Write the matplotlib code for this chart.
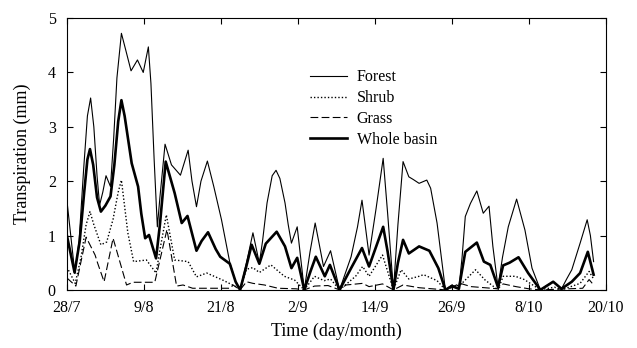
import matplotlib.pyplot as plt
import numpy as np

# ── Data (day counted from 28/7) ──────────────────────────────────────
forest_day = [0.0, 1.25, 1.9, 2.6, 3.2, 3.7, 4.2, 4.7, 5.1, 5.6, 6.1, 6.8, 7.3, 7.8,
              8.5, 9.2, 10.0, 11.0, 11.9, 12.7, 13.1, 13.6, 14.1, 14.5, 15.3, 16.3,
              17.7, 18.9, 19.5, 20.2, 20.9, 21.9, 22.9, 24.1, 25.4, 26.3, 27.0, 28.0,
              29.0, 30.0, 30.5, 31.2, 32.0, 32.6, 33.2, 34.0, 34.5, 35.0, 35.9, 37.0,
              37.9, 38.7, 40.0, 41.1, 42.5, 44.3, 45.3, 46.0, 47.1, 48.2, 49.3, 50.0,
              50.9, 51.6, 52.4, 53.3, 54.0, 54.9, 56.1, 56.7, 57.7, 59.0, 60.0, 61.1,
              61.6, 62.1, 62.9, 63.9, 64.9, 65.8, 66.4, 67.2, 67.9, 68.8, 70.1, 71.4,
              72.5, 73.8, 74.8, 75.8, 77.1, 77.9, 78.7, 80.0, 81.1, 81.6, 82.1]
forest = [1.65, 0.30, 0.9, 2.2, 3.2, 3.53, 3.0, 2.1, 1.56, 1.8, 2.1, 1.9, 2.8, 3.9,
          4.72, 4.4, 4.03, 4.23, 4.0, 4.47, 3.8, 2.4, 1.16, 1.7, 2.68, 2.3,
          2.11, 2.57, 2.0, 1.53, 2.0, 2.37, 1.9, 1.29, 0.5, 0.15, 0.0, 0.5,
          1.05, 0.49, 0.9, 1.6, 2.1, 2.2, 2.05, 1.6, 1.2, 0.86, 1.16, 0.0,
          0.7, 1.23, 0.43, 0.72, 0.0, 0.61, 1.16, 1.65, 0.64, 1.5, 2.42, 1.4,
          0.0, 1.2, 2.36, 2.08, 2.03, 1.96, 2.02, 1.87, 1.23, 0.0, 0.09, 0.02,
          0.6, 1.35, 1.59, 1.82, 1.41, 1.54, 0.8, 0.05, 0.6, 1.16, 1.67, 1.1,
          0.4, 0.0, 0.08, 0.15, 0.02, 0.2, 0.37, 0.86, 1.29, 1.0, 0.52]

shrub_day = [0.0, 1.3, 2.2, 3.0, 3.6, 4.2, 5.3, 6.2, 7.2, 8.0, 8.5, 9.5, 10.4, 12.4,
             13.9, 14.6, 15.5, 16.8, 18.9, 20.2, 21.8, 24.3, 27.0, 28.0, 29.0, 30.0,
             31.8, 33.9, 35.5, 37.0, 38.6, 40.1, 41.1, 42.5, 45.0, 46.1, 47.1, 49.2,
             50.9, 52.1, 53.3, 54.9, 55.6, 57.7, 59.0, 61.4, 63.7, 65.2, 67.2, 68.0,
             69.9, 71.3, 73.8, 76.0, 77.1, 80.0, 81.4, 82.1]
shrub = [0.42, 0.12, 0.6, 1.2, 1.44, 1.2, 0.83, 0.88, 1.3, 1.8, 2.02, 1.05, 0.52, 0.55,
         0.31, 0.8, 1.38, 0.55, 0.52, 0.24, 0.31, 0.18, 0.02, 0.38, 0.41, 0.32,
         0.46, 0.25, 0.18, 0.0, 0.25, 0.17, 0.2, 0.0, 0.25, 0.43, 0.25, 0.64,
         0.0, 0.37, 0.2, 0.25, 0.28, 0.17, 0.0, 0.1, 0.37, 0.18, 0.0, 0.25,
         0.25, 0.19, 0.0, 0.05, 0.0, 0.12, 0.34, 0.2]

grass_day = [0.0, 1.4, 3.0, 4.4, 4.8, 5.8, 7.2, 9.3, 10.3, 13.7, 15.6, 17.1, 18.1, 19.6,
             25.5, 25.9, 27.0, 28.0, 29.0, 30.8, 32.9, 35.7, 37.0, 38.6, 40.7, 42.5,
             43.5, 46.1, 47.1, 49.2, 50.9, 52.4, 54.9, 59.0, 61.3, 63.0, 67.2, 68.0,
             70.0, 72.0, 73.8, 80.4, 81.4, 82.1]
grass = [0.22, 0.07, 0.97, 0.64, 0.49, 0.15, 0.95, 0.09, 0.14, 0.14, 1.11, 0.07, 0.09, 0.03,
         0.03, 0.09, 0.0, 0.15, 0.12, 0.09, 0.03, 0.02, 0.0, 0.07, 0.08, 0.0,
         0.09, 0.12, 0.06, 0.11, 0.0, 0.09, 0.04, 0.0, 0.12, 0.06, 0.02, 0.11,
         0.06, 0.02, 0.0, 0.03, 0.19, 0.09]

basin_day = [0.0, 1.2, 2.0, 2.7, 3.2, 3.6, 4.1, 4.7, 5.3, 6.0, 6.8, 7.4, 8.0, 8.5, 9.0,
             10.1, 11.1, 11.6, 12.2, 12.8, 13.9, 14.5, 15.4, 16.8, 17.9, 18.8, 20.2,
             21.0, 22.0, 23.2, 23.9, 25.4, 26.3, 27.0, 28.0, 28.8, 30.0, 31.0, 32.7,
             34.0, 35.0, 35.9, 37.0, 38.0, 38.8, 40.2, 41.0, 42.5, 44.3, 46.0, 47.1,
             49.3, 50.0, 50.9, 51.6, 52.4, 53.3, 54.9, 56.5, 57.9, 59.0, 60.0, 61.1,
             62.1, 63.9, 65.0, 66.0, 67.2, 68.0, 69.0, 70.4, 71.9, 73.8, 75.8, 77.1,
             78.7, 80.0, 81.2, 82.1]
basin = [1.0, 0.32, 0.9, 1.8, 2.4, 2.59, 2.3, 1.7, 1.44, 1.55, 1.72, 2.3, 3.1, 3.49, 3.2,
         2.33, 1.9, 1.4, 0.95, 1.01, 0.58, 1.2, 2.36, 1.78, 1.23, 1.36, 0.72,
         0.9, 1.06, 0.75, 0.61, 0.48, 0.15, 0.0, 0.45, 0.83, 0.48, 0.85, 1.07,
         0.8, 0.4, 0.59, 0.0, 0.35, 0.61, 0.25, 0.46, 0.0, 0.4, 0.77, 0.43,
         1.16, 0.7, 0.0, 0.5, 0.92, 0.67, 0.8, 0.72, 0.4, 0.0, 0.07, 0.02,
         0.7, 0.87, 0.52, 0.46, 0.05, 0.45, 0.5, 0.6, 0.31, 0.0, 0.15, 0.02,
         0.15, 0.31, 0.7, 0.28]

tick_days = [0, 12, 24, 36, 48, 60, 72, 84]
tick_labels = ['28/7', '9/8', '21/8', '2/9', '14/9', '26/9', '8/10', '20/10']

# ── Plot ──────────────────────────────────────────────────────────────
plt.rcParams['font.family'] = ['Liberation Serif', 'DejaVu Serif']

fig = plt.figure(figsize=(6.37, 3.48), dpi=100)
ax = fig.add_axes([0.105, 0.167, 0.846, 0.781])

ax.plot(forest_day, forest, color='black', linewidth=0.8, label='Forest')
ax.plot(shrub_day, shrub, color='black', linewidth=1.0, linestyle=(0, (1, 1.5)), label='Shrub')
ax.plot(grass_day, grass, color='black', linewidth=0.8, linestyle=(0, (7, 3)), label='Grass')
ax.plot(basin_day, basin, color='black', linewidth=1.9, label='Whole basin')

ax.set_xlim(0, 84)
ax.set_ylim(0, 5)
ax.set_xticks(tick_days)
ax.set_xticklabels(tick_labels)
ax.set_yticks(range(0, 6))
ax.tick_params(direction='in', top=True, right=True, length=4, labelsize=11.5)
ax.tick_params(axis='x', pad=7)
ax.tick_params(axis='y', pad=8)

ax.set_xlabel('Time (day/month)', fontsize=13, labelpad=5)
ax.set_ylabel('Transpiration (mm)', fontsize=13, labelpad=12)

ax.legend(fontsize=11.5, frameon=False, loc='upper left',
          bbox_to_anchor=(0.44, 0.835), handlelength=2.3, handletextpad=0.6,
          labelspacing=0.3, borderaxespad=0)

plt.savefig('out.png', dpi=100)
